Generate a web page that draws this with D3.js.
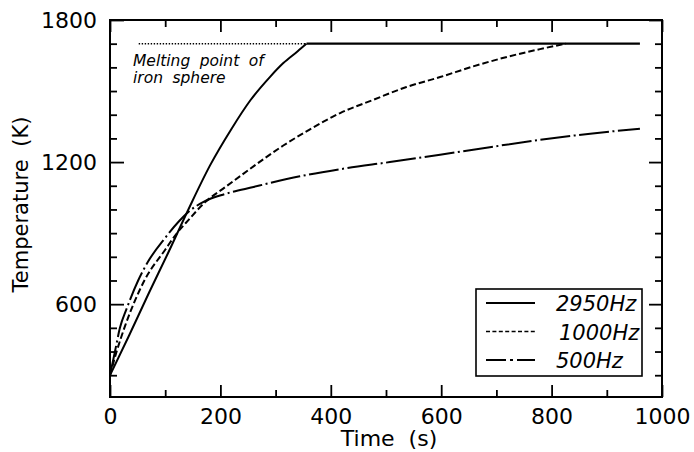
<!DOCTYPE html>
<html>
<head>
<meta charset="utf-8">
<script src="https://cdn.jsdelivr.net/npm/d3@7"></script>
<style>
  body { margin: 0; background: #fff; }
  svg { display: block; }
  text { font-family: "DejaVu Sans", sans-serif; fill: #000; }
</style>
</head>
<body>
<div class="chart"></div>
<script>
// data ============================================================ //
var meltTemp = 1700;
var endTime = 960;

var time2950 = [0, 35, 70, 105, 142, 181, 220, 254, 290, 314, 340, 356];
var temp2950 = [300, 470, 645, 815, 1000, 1185, 1340, 1460, 1560, 1618, 1668, 1700];

var time1000 = [0, 12, 27, 63, 100, 118, 142, 172, 208, 250, 314, 360, 417, 477, 537, 598, 658, 719, 779, 826];
var temp1000 = [300, 400, 506, 703, 830, 890, 955, 1030, 1093, 1165, 1270, 1335, 1407, 1463, 1517, 1559, 1604, 1644, 1677, 1700];

var time500 = [0, 9, 18, 30, 51, 69, 100, 125, 145, 172, 208, 260, 344, 417, 507, 598, 688, 779, 870, 960];
var temp500 = [300, 400, 500, 580, 700, 780, 880, 950, 995, 1035, 1065, 1095, 1140, 1170, 1200, 1231, 1263, 1294, 1320, 1341];

var meltLineStart = 52;

var xTicksMajor = [0, 200, 400, 600, 800, 1000];
var xTicksMinor = [100, 300, 500, 700, 900];
var yTicksMajor = [600, 1200, 1800];
var yTicksMinor = [300, 400, 500, 700, 800, 900, 1000, 1100, 1300, 1400, 1500, 1600, 1700];

var legendLabels = ["2950Hz", "1000Hz", "500Hz"];

// ================================================================= //

var width = 694, height = 452;
var margin = { top: 20, right: 32, bottom: 55, left: 110 };

var svg = d3.select(".chart")
  .append("svg")
  .attr("width", width)
  .attr("height", height);

var x = d3.scaleLinear().domain([0, 1000]).range([margin.left, width - margin.right]);
var y = d3.scaleLinear().domain([208, 1800]).range([height - margin.bottom, margin.top]);

function zip(ts, vs) {
  return ts.map(function (t, i) { return { t: t, v: vs[i] }; });
}

// axes (ticks point inward on all four sides)
function styleAxis(g) {
  g.select(".domain").remove();
  g.selectAll(".tick line").attr("stroke", "#000").attr("stroke-width", 1.8);
  g.selectAll(".tick text").attr("font-size", 22).attr("fill", "#000")
    .attr("font-family", "DejaVu Sans, sans-serif");
}

var plotBottom = height - margin.bottom, plotTop = margin.top;
var plotLeft = margin.left, plotRight = width - margin.right;

svg.append("g").attr("transform", "translate(0," + plotBottom + ")")
  .call(d3.axisBottom(x).tickValues(xTicksMajor).tickSize(-12).tickPadding(11).tickFormat(d3.format("d")))
  .call(styleAxis);
svg.append("g").attr("transform", "translate(0," + plotBottom + ")")
  .call(d3.axisBottom(x).tickValues(xTicksMinor).tickSize(-7).tickFormat(""))
  .call(styleAxis);
svg.append("g").attr("transform", "translate(0," + plotTop + ")")
  .call(d3.axisTop(x).tickValues(xTicksMajor).tickSize(-12).tickFormat(""))
  .call(styleAxis);
svg.append("g").attr("transform", "translate(0," + plotTop + ")")
  .call(d3.axisTop(x).tickValues(xTicksMinor).tickSize(-7).tickFormat(""))
  .call(styleAxis);

svg.append("g").attr("transform", "translate(" + plotLeft + ",0)")
  .call(d3.axisLeft(y).tickValues(yTicksMajor).tickSize(-14).tickPadding(13).tickFormat(d3.format("d")))
  .call(styleAxis);
svg.append("g").attr("transform", "translate(" + plotLeft + ",0)")
  .call(d3.axisLeft(y).tickValues(yTicksMinor).tickSize(-7).tickFormat(""))
  .call(styleAxis);
svg.append("g").attr("transform", "translate(" + plotRight + ",0)")
  .call(d3.axisRight(y).tickValues(yTicksMajor).tickSize(-13).tickFormat(""))
  .call(styleAxis);
svg.append("g").attr("transform", "translate(" + plotRight + ",0)")
  .call(d3.axisRight(y).tickValues(yTicksMinor).tickSize(-7).tickFormat(""))
  .call(styleAxis);

// frame
svg.append("rect")
  .attr("x", plotLeft).attr("y", plotTop)
  .attr("width", plotRight - plotLeft).attr("height", plotBottom - plotTop)
  .attr("fill", "none").attr("stroke", "#000").attr("stroke-width", 2);

// axis titles
svg.append("text")
  .attr("x", (plotLeft + plotRight) / 2 + 3).attr("y", 446)
  .attr("text-anchor", "middle").attr("font-size", 22)
  .attr("word-spacing", 7)
  .text("Time (s)");

svg.append("text")
  .attr("transform", "translate(28," + ((plotTop + plotBottom) / 2 - 4) + ") rotate(-90)")
  .attr("text-anchor", "middle").attr("font-size", 21)
  .attr("word-spacing", 6)
  .text("Temperature (K)");

// curves
var line = d3.line()
  .x(function (d) { return x(d.t); })
  .y(function (d) { return y(d.v); })
  .curve(d3.curveMonotoneX);

var straight = d3.line()
  .x(function (d) { return x(d.t); })
  .y(function (d) { return y(d.v); });

var plot = svg.append("g");

// melting point, dotted
plot.append("path")
  .attr("d", straight([{ t: meltLineStart, v: meltTemp }, { t: time2950[time2950.length - 1], v: meltTemp }]))
  .attr("fill", "none").attr("stroke", "#000").attr("stroke-width", 1.6)
  .attr("stroke-dasharray", "1.4,1.6");

var series = [
  { name: legendLabels[0], data: zip(time2950, temp2950), dash: null },
  { name: legendLabels[1], data: zip(time1000, temp1000), dash: "6.5,3" },
  { name: legendLabels[2], data: zip(time500, temp500), dash: "30,3.5,2,3.5" }
];

series.forEach(function (s) {
  plot.append("path")
    .attr("d", line(s.data))
    .attr("fill", "none")
    .attr("stroke", "#000")
    .attr("stroke-width", 2)
    .attr("stroke-dasharray", s.dash);
});

// plateau at melting point
plot.append("path")
  .attr("d", straight([{ t: time2950[time2950.length - 1], v: meltTemp }, { t: endTime, v: meltTemp }]))
  .attr("fill", "none").attr("stroke", "#000").attr("stroke-width", 2.2);

// annotation
var note = svg.append("g")
  .attr("font-size", 15.5).attr("font-style", "italic")
  .attr("word-spacing", 4.5);
note.append("text").attr("x", 133).attr("y", 66).text("Melting point of");
note.append("text").attr("x", 133).attr("y", 83).text("iron sphere");

// legend
var legend = svg.append("g");
legend.append("rect")
  .attr("x", 476).attr("y", 289).attr("width", 166).attr("height", 87)
  .attr("fill", "#fff").attr("stroke", "#000").attr("stroke-width", 1.6);

var legendDash = [null, "4,2.4", "20,4,3,4"];
var legendWidth = [2, 1.5, 2];
legendLabels.forEach(function (lab, i) {
  var ry = 303 + i * 28.5;
  legend.append("line")
    .attr("x1", 486).attr("x2", 535).attr("y1", ry).attr("y2", ry)
    .attr("stroke", "#000").attr("stroke-width", legendWidth[i])
    .attr("stroke-dasharray", legendDash[i]);
  legend.append("text")
    .attr("x", i == 1 ? 559 : 556).attr("y", ry + 8)
    .attr("font-size", 21).attr("font-style", "italic")
    .text(lab);
});
</script>
</body>
</html>
